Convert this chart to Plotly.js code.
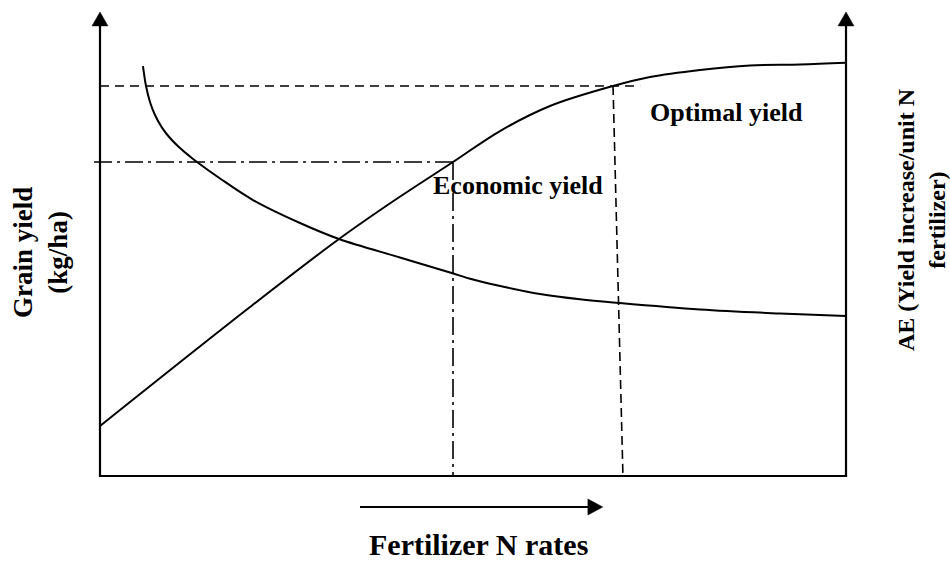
<!DOCTYPE html>
<html>
<head>
<meta charset="utf-8">
<script src="https://cdn.plot.ly/plotly-3.0.1.min.js"></script>
<style>html,body{margin:0;padding:0;background:#fff;}#chart{width:950px;height:563px;}</style>
</head>
<body>
<div id="chart"></div>
<script>
// Grain yield response curve (relative units)
const nRateYield = [0, 20.11, 32.04, 39.54, 47.32, 53.62, 60.32, 68.77, 73.73, 80.43, 87.13, 93.83, 100];
const grainYield = [10.78, 36.42, 51.08, 59.48, 67.67, 74.35, 79.74, 84.05, 85.99, 87.5, 88.47, 88.69, 89.07];
// Agronomic efficiency curve
const nRateAE = [5.76, 6.17, 6.70, 7.37, 8.31, 9.38, 10.72, 12.06, 13.0, 16.09, 20.51, 26.81, 32.04, 40.21, 46.92, 50.0, 54.56, 58.98, 64.34, 69.57, 80.43, 91.15, 100];
const aeValues = [88.36, 84.05, 80.60, 77.80, 75.09, 72.84, 70.69, 68.86, 67.67, 64.12, 59.48, 54.53, 51.08, 47.09, 43.86, 42.35, 40.62, 39.22, 38.08, 37.28, 35.88, 35.02, 34.48];
// Reference points
const economicPoint = {x: 47.32, y: 67.67};
const optimalPoint = {x: 68.77, y: 84.05};
const optimalBottomX = 70.1;
const labels = {
  left: "<b>Grain yield</b><br><b>(kg/ha)</b>",
  right: "<b>AE (Yield increase/unit N</b><br><b>fertilizer)</b>",
  economic: "<b>Economic yield</b>",
  optimal: "<b>Optimal yield</b>",
  bottom: "<b>Fertilizer N rates</b>"
};

const W = 950, H = 563;
const font = "Liberation Serif, Times New Roman, serif";
const blk = "#000";

const traces = [
  {x: [-0.8, economicPoint.x], y: [economicPoint.y, economicPoint.y], mode: "lines",
   line: {color: blk, width: 1.6, dash: "18px,5px,3px,5px"}, hoverinfo: "skip"},
  {x: [economicPoint.x, economicPoint.x], y: [economicPoint.y, 0], mode: "lines",
   line: {color: blk, width: 1.6, dash: "18px,5px,3px,5px"}, hoverinfo: "skip"},
  {x: [0, 72.4], y: [optimalPoint.y, optimalPoint.y], mode: "lines",
   line: {color: blk, width: 1.6, dash: "9px,6px"}, hoverinfo: "skip"},
  {x: [optimalPoint.x, optimalBottomX], y: [optimalPoint.y, 0], mode: "lines",
   line: {color: blk, width: 1.6, dash: "9px,5px"}, hoverinfo: "skip"},
  {x: nRateYield, y: grainYield, mode: "lines", line: {color: blk, width: 2, shape: "spline", smoothing: 1}},
  {x: nRateAE, y: aeValues, mode: "lines", line: {color: blk, width: 2, shape: "spline", smoothing: 1}}
];

const shapes = [
  {type: "line", xref: "x", yref: "y", x0: 0, y0: 0, x1: 0, y1: 97.5, line: {color: blk, width: 2.2}},
  {type: "line", xref: "x", yref: "y", x0: 100, y0: 0, x1: 100, y1: 97.5, line: {color: blk, width: 2.2}},
  {type: "line", xref: "x", yref: "y", x0: -0.15, y0: 0, x1: 100.15, y1: 0, line: {color: blk, width: 2.2}},
  {type: "path", xref: "x", yref: "y", path: "M -1.07 97 L 1.07 97 L 0 100 Z", fillcolor: blk, line: {color: blk, width: 0.5}},
  {type: "path", xref: "x", yref: "y", path: "M 98.93 97 L 101.07 97 L 100 100 Z", fillcolor: blk, line: {color: blk, width: 0.5}},
  {type: "line", xref: "x", yref: "y", x0: 34.85, y0: -6.68, x1: 65.6, y1: -6.68, line: {color: blk, width: 2}},
  {type: "path", xref: "x", yref: "y", path: "M 65.4 -4.96 L 67.4 -6.68 L 65.4 -8.4 Z", fillcolor: blk, line: {color: blk, width: 0.5}}
];

const ann = (text, px, py, size, angle) => ({
  text, xref: "paper", yref: "paper", x: px / W, y: 1 - py / H, xanchor: "center", yanchor: "middle",
  showarrow: false, textangle: angle || 0, font: {family: font, size, color: blk}
});

const layout = {
  width: W, height: H, margin: {l: 0, r: 0, t: 0, b: 0},
  paper_bgcolor: "#fff", plot_bgcolor: "#fff", showlegend: false,
  xaxis: {range: [-13.405, 113.94], visible: false, fixedrange: true},
  yaxis: {range: [-18.75, 102.586], visible: false, fixedrange: true},
  shapes,
  annotations: [
    ann(labels.left, 40, 253, 27, -90),
    ann(labels.right, 922, 220, 24, -90),
    ann(labels.economic, 518, 185, 26),
    ann(labels.optimal, 726, 113, 26),
    ann(labels.bottom, 479, 544, 30)
  ]
};

Plotly.newPlot("chart", traces, layout, {displayModeBar: false, staticPlot: true});
</script>
</body>
</html>
